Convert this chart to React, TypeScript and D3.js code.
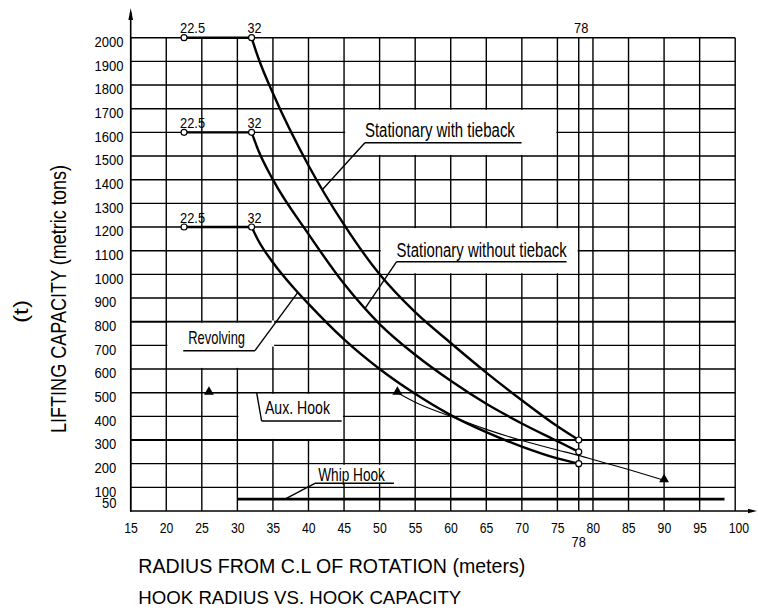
import React from 'react';
import * as d3 from 'd3';

// ---------- data ----------
const xTickValues = [15, 20, 25, 30, 35, 40, 45, 50, 55, 60, 65, 70, 75, 80, 85, 90, 95, 100];
const yTickValues = [100, 200, 300, 400, 500, 600, 700, 800, 900, 1000, 1100, 1200, 1300, 1400, 1500, 1600, 1700, 1800, 1900, 2000];
const yExtraTick = 50;

const flatRadius = [22.5, 32];
const endRadius = 78;

const tiebackR = [32, 33, 35, 40, 45, 50, 55, 60, 65, 70, 75, 78];
const tiebackT = [2000, 1910, 1765, 1460, 1210, 1000, 840, 710, 585, 468, 358, 300];

const withoutR = [32, 33, 35, 40, 45, 50, 55, 60, 65, 70, 75, 78];
const withoutT = [1600, 1520, 1400, 1170, 960, 790, 660, 550, 453, 370, 295, 250];

const revolvingR = [32, 33, 35, 38, 40, 45, 50, 55, 60, 65, 70, 75, 78];
const revolvingT = [1200, 1140, 1050, 940, 875, 725, 600, 495, 405, 333, 272, 222, 200];

const auxFlatR = [26, 52.5];
const auxFlatT = 500;
const auxR = [52.5, 55, 60, 65, 70, 75, 78, 80, 85, 90];
const auxT = [500, 460, 400, 345, 298, 258, 235, 218, 175, 130];
const auxMarkR = [26, 52.5, 90];
const auxMarkT = [500, 500, 130];

const whipR = [30, 98.5];
const whipT = 50;

const FONT = "'Liberation Sans', Arial, sans-serif";

type P = [number, number];
const zip = (a: number[], b: number[]): P[] => a.map((v, i) => [v, b[i]] as P);

function Txt(props: any) {
  const { x, y, size, len, anchor = 'start', children, transform } = props;
  return (
    <text
      x={x}
      y={y}
      transform={transform}
      fontSize={size}
      fontFamily={FONT}
      textAnchor={anchor}
      textLength={len}
      lengthAdjust="spacingAndGlyphs"
      fill="#000"
    >
      {children}
    </text>
  );
}

export default function App() {
  const W = 758, H = 613;
  const x = d3.scaleLinear().domain([15, 100]).range([130.7, 735.2]);
  const y = d3.scaleLinear().domain([0, 2000]).range([511, 37.7]);

  const curve = d3
    .line<P>()
    .x((d) => x(d[0]))
    .y((d) => y(d[1]))
    .curve(d3.curveMonotoneX);
  const straight = d3
    .line<P>()
    .x((d) => x(d[0]))
    .y((d) => y(d[1]));

  const interp = (r: number[], t: number[]) => d3.scaleLinear().domain(r).range(t);
  const tiebackAt = interp(tiebackR, tiebackT);
  const withoutAt = interp(withoutR, withoutT);
  const revolvingAt = interp(revolvingR, revolvingT);

  const series = [
    { r: tiebackR, t: tiebackT },
    { r: withoutR, t: withoutT },
    { r: revolvingR, t: revolvingT },
  ];

  const boxes = [
    { x0: 45, x1: 75, y0: 1500, y1: 1700, inset: 1.1 },
    { x0: 50, x1: 78, y0: 1000, y1: 1200, inset: 1.1 },
    { x0: 20, x1: 35, y0: 600, y1: 800, inset: 1.1 },
    { x0: 35, x1: 35, y0: 700, y1: 800, inset: -1.2 },
    { x0: 30, x1: 45, y0: 300, y1: 500, inset: 1.1 },
    { x0: 40, x1: 55, y0: 115, y1: 200, inset: 1.1 },
  ];

  const labels = [
    { text: 'Stationary with tieback', tx: 47.93, ty: 1581.7, len: 150, size: 20, ux0: 47.93, ux1: 69.96, uy: 1556, from: 47.93, target: [42, tiebackAt(42)] as P },
    { text: 'Stationary without tieback', tx: 52.39, ty: 1072, len: 170, size: 19.5, ux0: 52.39, ux1: 76.29, uy: 1053.5, from: 52.39, target: [48, withoutAt(48)] as P },
    { text: 'Revolving', tx: 23.1, ty: 705.7, len: 56.7, size: 19, ux0: 22.39, ux1: 32.47, uy: 677.4, from: 32.47, target: [38.5, revolvingAt(38.5)] as P },
    { text: 'Aux. Hook', tx: 33.88, ty: 409.9, len: 65, size: 19, ux0: 33.41, ux1: 44.66, uy: 380.3, from: 33.41, target: [32.71, 500] as P },
    { text: 'Whip Hook', tx: 41.37, ty: 128, len: 66.7, size: 18, ux0: 40.9, ux1: 52.01, uy: 117, from: 40.9, target: [36.69, 50] as P },
  ];

  const boldGrid = [300, 800];
  const tri = d3.symbol().type(d3.symbolTriangle).size(42)() as string;

  const x0 = x(15), x100 = x(100), y0 = y(0), y2000 = y(2000);

  return (
    <svg width={W} height={H} viewBox={`0 0 ${W} ${H}`} style={{ position: 'absolute', left: 0, top: 0, background: '#fff' }}>
      <rect x={0} y={0} width={W} height={H} fill="#fff" />
      {/* grid */}
      <g stroke="#000" fill="none">
        {xTickValues.map((v) => (
          <line key={'vx' + v} x1={x(v)} x2={x(v)} y1={y0} y2={y2000} strokeWidth={1.4} />
        ))}
        <line x1={x(endRadius)} x2={x(endRadius)} y1={y0} y2={y2000} strokeWidth={1.4} />
        {yTickValues.map((v) => (
          <line key={'hy' + v} x1={x0} x2={x100} y1={y(v)} y2={y(v)} strokeWidth={boldGrid.includes(v) ? 2.1 : 1.4} />
        ))}
      </g>
      {/* label masks */}
      {boxes.map((b, i) => {
        const bx = x(b.x0) + b.inset;
        const by = y(b.y1) + b.inset;
        const bw = x(b.x1) - x(b.x0) - 2 * b.inset;
        const bh = y(b.y0) - y(b.y1) - 2 * b.inset;
        return <rect key={'box' + i} x={bx} y={by} width={bw} height={bh} fill="#fff" />;
      })}
      {/* axes */}
      <g stroke="#000" fill="#000">
        <line x1={x0} x2={x0} y1={y0 + 0.7} y2={12} strokeWidth={1.6} />
        <path d={`M${x0},8 L${x0 - 2.3},20 L${x0 + 2.3},20 Z`} stroke="none" />
        <line x1={x0 - 0.7} x2={750} y1={y0} y2={y0} strokeWidth={1.6} />
        <path d={`M757,${y0} L748,${y0 - 2.2} L748,${y0 + 2.2} Z`} stroke="none" />
      </g>
      {/* capacity curves */}
      <g stroke="#000" fill="none" strokeWidth={2.4} strokeLinejoin="round">
        {series.map((s, i) => (
          <g key={'s' + i}>
            <path d={straight(zip(flatRadius, [s.t[0], s.t[0]])) as string} />
            <path d={curve(zip(s.r, s.t)) as string} />
          </g>
        ))}
        <path d={straight(zip(whipR, [whipT, whipT])) as string} strokeWidth={2.6} />
      </g>
      {/* aux hook */}
      <g stroke="#000" fill="none" strokeWidth={1.1}>
        <path d={straight(zip(auxFlatR, [auxFlatT, auxFlatT])) as string} />
        <path d={curve(zip(auxR, auxT)) as string} />
      </g>
      {auxMarkR.map((r, i) => (
        <path key={'tri' + i} d={tri} transform={`translate(${x(r)},${y(auxMarkT[i]) - 0.8})`} fill="#000" />
      ))}
      {/* end point circles */}
      <g stroke="#000" fill="#fff" strokeWidth={1.2}>
        {series.map((s, i) => (
          <g key={'c' + i}>
            {flatRadius.map((r) => (
              <circle key={r} cx={x(r)} cy={y(s.t[0])} r={3} />
            ))}
            <circle cx={x(endRadius)} cy={y(s.t[s.t.length - 1])} r={3} />
          </g>
        ))}
      </g>
      {/* point labels */}
      {series.map((s, i) =>
        flatRadius.map((r) => {
          const str = String(r);
          const len = str.replace('.', '').length * 7 + (str.includes('.') ? 4 : 0);
          return (
            <Txt key={'pl' + i + r} x={x(r) - 4} y={y(s.t[0]) - 4.4} size={14} len={len}>
              {str}
            </Txt>
          );
        })
      )}
      <Txt x={x(endRadius) + 2.5} y={y2000 - 4.4} size={14} len={14.3} anchor="middle">
        {String(endRadius)}
      </Txt>
      <Txt x={x(endRadius)} y={y0 + 35.5} size={14} len={14.3} anchor="middle">
        {String(endRadius)}
      </Txt>
      {/* annotations */}
      <g stroke="#000" strokeWidth={1.4}>
        {labels.map((l, i) => (
          <g key={'lab' + i}>
            <line x1={x(l.ux0)} x2={x(l.ux1)} y1={y(l.uy)} y2={y(l.uy)} />
            <line x1={x(l.from)} y1={y(l.uy)} x2={x(l.target[0])} y2={y(l.target[1])} />
          </g>
        ))}
      </g>
      {labels.map((l, i) => (
        <Txt key={'lt' + i} x={x(l.tx)} y={y(l.ty)} size={l.size} len={l.len}>
          {l.text}
        </Txt>
      ))}
      {/* y ticks */}
      {yTickValues.map((v) => {
        const s = String(v);
        return (
          <Txt key={'yt' + v} x={94.5} y={y(v) + 9.2} size={15.4} len={s.length * 7.25}>
            {s}
          </Txt>
        );
      })}
      <Txt x={116.5} y={y(yExtraTick) + 9.2} size={15.4} len={14.5} anchor="end">
        {String(yExtraTick)}
      </Txt>
      {/* x ticks */}
      {xTickValues.map((v) => {
        const s = String(v);
        return (
          <Txt key={'xt' + v} x={x(v) - 6.5} y={y0 + 21.7} size={14.4} len={s.length * 6.8}>
            {s}
          </Txt>
        );
      })}
      {/* titles */}
      <Txt transform={`translate(66,433) rotate(-90)`} x={0} y={0} size={22} len={268}>
        LIFTING CAPACITY (metric tons)
      </Txt>
      <Txt transform={`translate(28,323) rotate(-90)`} x={0} y={0} size={21} len={23}>
        (t)
      </Txt>
      <Txt x={138.3} y={573.3} size={19.5} len={387}>
        RADIUS FROM C.L OF ROTATION (meters)
      </Txt>
      <Txt x={138.3} y={604.3} size={18.6} len={323}>
        HOOK RADIUS VS. HOOK CAPACITY
      </Txt>
    </svg>
  );
}
